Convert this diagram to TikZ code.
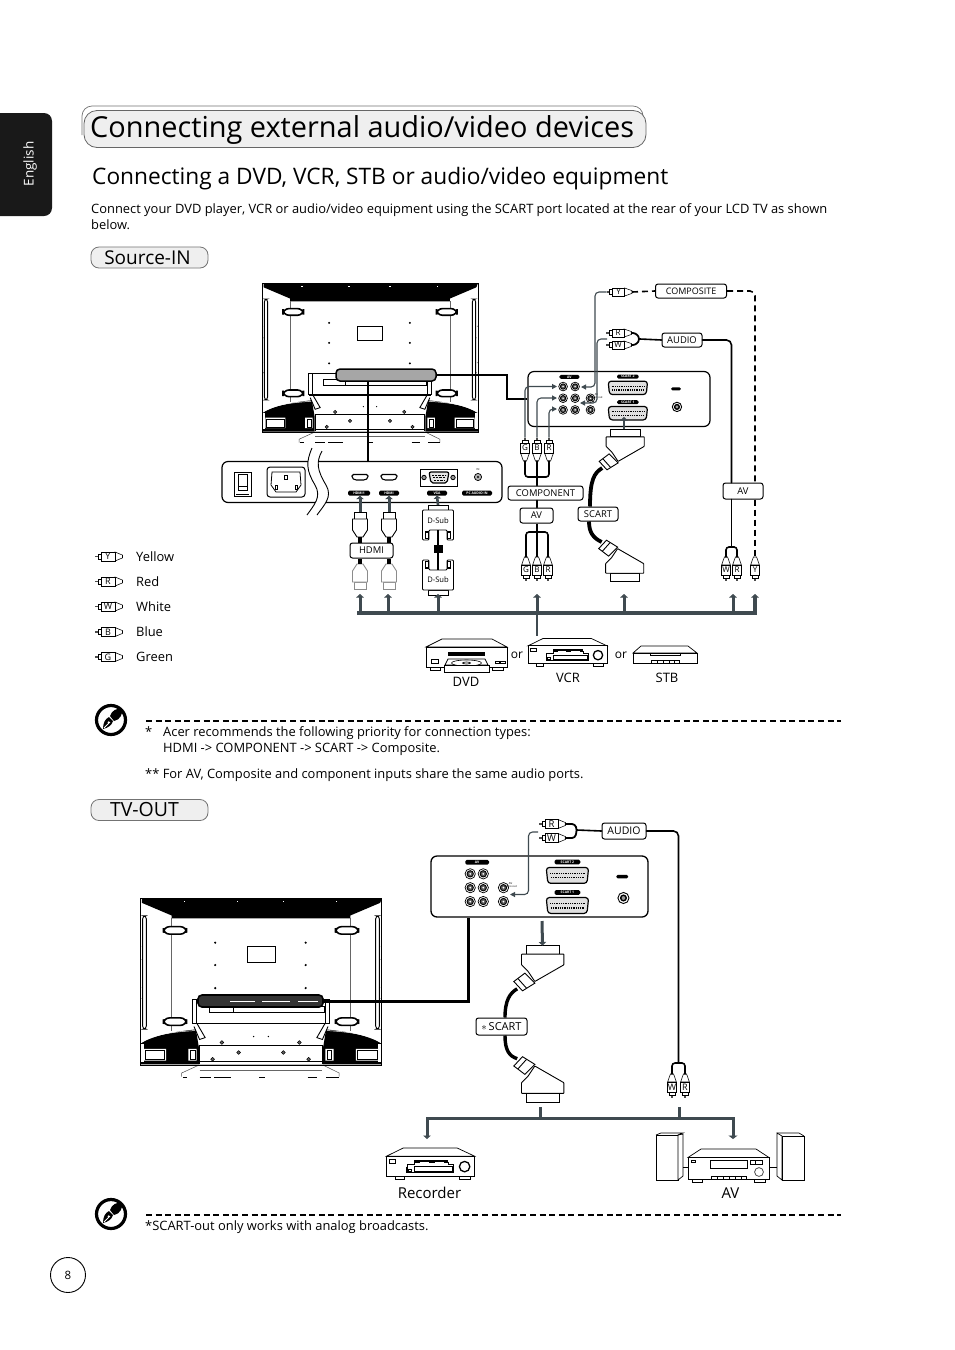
\documentclass[tikz,border=0pt]{standalone}
\usepackage{fontspec}
\setmainfont{Open Sans}
\usetikzlibrary{arrows.meta,calc}
\definecolor{slate}{HTML}{3F4A50}
\definecolor{pillgray}{HTML}{EFEFEF}
\newcommand\fs[1]{\fontsize{#1}{#1}\selectfont}
\tikzset{
 lbl/.style={draw,line width=1pt,rounded corners=2.5pt,fill=white,inner sep=0pt,font=\fs{9.4}},
 txt/.style={inner sep=0pt,anchor=base west,font=\fs{12.9}},
 plugbox/.style={draw,line width=.6pt,fill=white,inner sep=0pt,font=\fs{8}},
 plugline/.style={draw,line width=.55pt},
 cable/.style={line width=1.6pt,line cap=round},
 fatcable/.style={line width=2.6pt},
 thinarr/.style={draw=slate,line width=1.1pt,-{Triangle[width=5pt,length=5pt]}},
 bigarr/.style={draw=slate,line width=3pt,-{Triangle[width=7.5pt,length=3.5pt]}},
 tinypill/.style={fill=black,text=white,rounded corners=1.5pt,inner sep=0pt,font=\fs{3.4}\bfseries},
 tiny/.style={inner sep=0pt,font=\fs{2.8}},
 pill/.style={draw=black!55,line width=.8pt,fill=pillgray,rounded corners=8pt,inner sep=0pt},
}
% ---- RCA plugs
\newcommand\rcav[5]{% name x y letter dir
 \begin{scope}[shift={(#2,#3)},yscale=#5]
  \fill[black!70] (-.7,-10.5) rectangle (.7,-7.5);
  \draw[plugline,fill=white] (-2.8,-5) rectangle (2.8,-8);
  \draw[plugline,fill=white] (-4.4,5) -- (-1.6,13) -- (1.6,13) -- (4.4,5) -- cycle;
  \coordinate (#1c) at (0,13); \coordinate (#1p) at (0,-10.5);
 \end{scope}
 \node[plugbox,minimum width=9pt,minimum height=10pt] (#1) at (#2,#3) {#4};}
\newcommand\rcah[6]{% name x y letter boxw boxh
 \begin{scope}[shift={(#2,#3)}]
  \fill[black!70] ({-#5/2-6},-.7) rectangle ({-#5/2-2},.7);
  \draw[plugline,fill=white] ({-#5/2-3},-2.6) rectangle ({-#5/2},2.6);
  \draw[plugline,fill=white] ({#5/2},{-#6/2}) -- ({#5/2+7.5},-1.4) -- ({#5/2+7.5},1.4) -- ({#5/2},{#6/2}) -- cycle;
  \coordinate (#1c) at ({#5/2+7.5},0); \coordinate (#1p) at ({-#5/2-6},0);
 \end{scope}
 \node[plugbox,minimum width=#5 pt,minimum height=#6 pt] (#1) at (#2,#3) {#4};}
% ---- HDMI
\newcommand\hdmiplug[5]{% name x y dir colour
 \begin{scope}[shift={(#2,#3)},yscale=#4,line width=.9pt,draw=#5]
  \draw[fill=white] (-6,0) rectangle (6,7);
  \draw[fill=white] (-7.5,7) -- (7.5,7) -- (7.5,18) -- (3,25) -- (-3,25) -- (-7.5,18) -- cycle;
  \coordinate (#1c) at (0,25); \coordinate (#1t) at (0,0);
 \end{scope}}
% ---- D-Sub
\newcommand\dsub[4]{% name x y dir
 \begin{scope}[shift={(#2,#3)},yscale=#4,line width=.9pt]
  \draw[fill=white] (-10,0) rectangle (10,5);
  \draw[fill=white,rounded corners=1pt] (-15.5,5) -- (15.5,5) -- (15.5,35) -- (9,35) -- (9,25) -- (-9,25) -- (-9,35) -- (-15.5,35) -- cycle;
  \draw[line width=1.1pt] (-12.5,27) rectangle (-9.5,33.5) (12.5,27) rectangle (9.5,33.5);
  \coordinate (#1c) at (0,25); \coordinate (#1t) at (0,0);
 \end{scope}}
% ---- SCART plug
\newcommand\scartplug[5]{% name x y sx sy
 \begin{scope}[shift={(#2,#3)},xscale=#4,yscale=#5,line width=.9pt]
  \draw[fill=white] (-48,0) rectangle (50,26);
  \draw[fill=white,rounded corners=.5pt] (-63,26) -- (64,26) -- (64,58) -- (-23,108) -- (-43,78) -- (-63,58) -- cycle;
  \draw[fill=white] (-86,108) -- (-53,83) -- (-23,113) -- (-60,136) -- cycle;
  \draw (-74,99) -- (-48,128);
  \coordinate (#1c) at (-76,130); \coordinate (#1t) at (0,0);
 \end{scope}}
% ---- rear panel of AV jacks
\newcommand\jack[1]{\draw[fill=white,line width=.7pt] (#1) circle (13); \draw[fill=black!65,line width=.9pt] (#1) circle (8); \fill[white] (#1) circle (2.5);}
\newcommand\scartsock[3]{% left top width
 \draw[line width=1.2pt,fill=black!12,rounded corners=3pt] (#1,#2) -- ++(#3,0) -- ++(-4,40) -- ++({-#3+8},0) -- cycle;
 \draw[line width=1.4pt,dash pattern=on .9 off .9,line cap=butt] ({#1+10},{#2+15}) -- ++({#3-20},0) ({#1+12},{#2+26}) -- ++({#3-24},0);}
\newcommand\avpanel[9]{% name x y s j1 j2 j3 sx sw
 \begin{scope}[shift={(#2,#3)},scale=#4]
  \jack{#5,45}\jack{#6,45}
  \jack{#5,80}\jack{#6,80}\jack{#7,80}
  \jack{#5,115}\jack{#6,115}\jack{#7,115}
  \node[tinypill,minimum width=#4*60pt,minimum height=#4*12pt] at ({(#5+#6)/2+1},16) {AV};
  \node[tiny] at ({#7+18},70) {AV};
  \node[tiny] at ({#7+18},78) {audio out};
  \node[tinypill,minimum width=#4*65pt,minimum height=#4*12pt] at ({#8+#9/2},15) {SCART 2};
  \node[tinypill,minimum width=#4*65pt,minimum height=#4*12pt] at ({#8+#9/2},92) {SCART 1};
  \scartsock{#8}{29}{#9}
  \scartsock{#8}{105}{#9}
  \node[tinypill,minimum width=#4*30pt,minimum height=#4*9pt] at ({#8+#9+85},52) {};
  \draw[line width=.9pt,fill=white] ({#8+#9+88},106) circle (14);
  \draw[line width=1.4pt,fill=black!40] ({#8+#9+88},106) circle (7);
 \end{scope}}
% ---- TV rear; local units 650 x 450
\newcommand\tvcorner{%
  \fill (0,392) .. controls (30,372) and (80,360) .. (150,353) -- (158,400) -- (158,447) -- (0,447) -- cycle;
  \draw[white,line width=.5pt] (3,388) .. controls (32,368) and (82,360) .. (148,356);
  \fill[white] (10,405) rectangle (70,437) (130,405) rectangle (152,437);
  \fill[white] (0,392) rectangle (10,440);
  \draw[line width=.5pt] (14,409) rectangle (66,433) (136,409) rectangle (148,433);
  \draw[line width=.9pt,rounded corners=3pt] (7,48) rectangle (17,352);
  \draw[line width=.4pt,black!60] (85,55) -- (85,358);
  \foreach \y in {77,322} {\draw[line width=1.6pt,fill=white,rounded corners=6pt] (63,\y) rectangle (125,{\y+20});}
  \foreach \y in {165,270} {\fill (6,\y) circle (1.6);}
  \foreach \y in {130,240} {\fill (2,\y) circle (1.2);}
  \draw[line width=.9pt,fill=white] (153,337) -- (175,375) -- (160,380) -- (145,345);
  \draw[line width=.8pt] (140,272) -- (140,337) (152,272) -- (152,337);
}
\newcommand\tvrear{%
  \fill[white] (0,0) rectangle (650,450);
  \draw[line width=.5pt,black!70,fill=white] (112,480) -- (112,470) -- (160,448) -- (490,448) -- (535,470) -- (535,480);
  \draw[line width=.4pt,black!60] (160,462) -- (490,462);
  \foreach \a/\b in {115/125,160/190,200/245,320/335,450/475,500/535} {\draw[line width=1pt] (\a,481) -- (\b,481);}
  \fill (5,0) -- (650,0) -- (645,13) -- (565,47) -- (565,55) -- (85,55) -- (85,47) -- (5,13) -- cycle;
  \foreach \x in {120,262,385,528} {\fill[white] (\x-2,8) rectangle (\x+2,10);}
  \tvcorner
  \begin{scope}[shift={(650,0)},xscale=-1]\tvcorner\end{scope}
  \draw[line width=1pt] (0,0) rectangle (650,450);
  \foreach \x in {202,445}\foreach \y in {120,180,242} {\fill (\x,\y) circle (3.2);}
  \draw[line width=.5pt] (287,130) rectangle (363,172);
  \draw[line width=1pt] (363,130) -- (363,172);
  \draw[line width=1.6pt] (140,337) -- (510,337);
  \draw[line width=.7pt] (140,272) -- (510,272);
  \draw[line width=.5pt,fill=white] (185,290) rectangle (495,307);
  \draw[line width=.6pt] (250,290) -- (250,307);
  \draw[line width=.8pt] (160,440) -- (490,440) (160,395) -- (160,445) (490,395) -- (490,445);
  \draw[line width=1.4pt] (160,396) -- (490,396);
  \foreach \p in {(220,388),(428,388),(265,415),(385,415),(195,433),(453,433)} {\draw[line width=.5pt,fill=black!60] \p circle (5);}
  \fill (305,372) circle (2) (345,372) circle (2);
}
% ---- devices
\newcommand\vcrdevice[3]{% x y s
 \begin{scope}[shift={(#1,#2)},scale=#3,line width=.7pt]
  \draw[fill=white] (25,22) rectangle (45,30) (195,75) rectangle (225,83);
  \draw[fill=white] (25,75) rectangle (47,83);
  \draw[fill=white] (0,22) -- (45,0) -- (190,0) -- (237,22) -- cycle;
  \draw[fill=white] (0,22) rectangle (237,75);
  \draw[fill=white] (8,30) rectangle (25,40);
  \draw[line width=1.3pt] (210,50) circle (14);
  \fill (75,32) rectangle (165,44);
  \draw[fill=white] (55,44) -- (75,44) -- (75,38) -- (165,38) -- (165,44) -- (180,44) -- (180,65) -- (55,65) -- cycle;
  \draw[line width=1pt] (55,50) -- (55,65) -- (180,65) -- (180,50) (75,50) rectangle (178,62);
  \draw (58,58) rectangle (66,64);
  \draw[line width=.6pt,white] (90,38) -- (115,38) (130,38) -- (155,38);
 \end{scope}}
\newcommand\noteicon[2]{%
 \begin{scope}[shift={(#1,#2)}]
  \draw[line width=3.2pt] (0,0) circle (14.5);
  \fill (-8,9) .. controls (-8,3) and (-6,-1) .. (-2,-3) -- (2,1) .. controls (1,5) and (-3,8) .. (-8,9) -- cycle;
  \fill (-1,-4) .. controls (1,-10) and (6,-12) .. (11,-11) .. controls (12,-6) and (9,0) .. (3,1) -- cycle;
  \draw[white,line width=.8pt] (-7,8) -- (-1,2);
  \fill[white] (-2.4,2.4) circle (1.1);
 \end{scope}}

\begin{document}
\begin{tikzpicture}[x=1pt,y=-1pt]
\useasboundingbox (0,0) rectangle (954,1350);
\fill[white] (0,0) rectangle (954,1350);

% --- page furniture
\fill[black!90,rounded corners=8pt] (-12,113) rectangle (52,216);
\node[rotate=90,text=white,inner sep=0pt,font=\fs{13.5}] (tab) at (30,164) {English};
\draw[black!55,line width=.7pt,rounded corners=10pt] (82,135) -- (82,106) -- (643,106) -- (643,140);
\node[draw=black!60,line width=.8pt,fill=pillgray,rounded corners=13pt,minimum width=562pt,minimum height=37pt,inner sep=0pt] (titlebar) at (365,129) {};
\node[inner sep=0pt,anchor=base west,font=\fs{28.9}] (title) at (90,137.5) {Connecting external audio/video devices};
\node[inner sep=0pt,anchor=base west,font=\fs{22.7}] (subtitle) at (92,184) {Connecting a DVD, VCR, STB or audio/video equipment};
\node[txt] (p1) at (91,213) {Connect your DVD player, VCR or audio/video equipment using the SCART port located at the rear of your LCD TV as shown};
\node[txt] (p2) at (91,229) {below.};
\node[pill,minimum width=117pt,minimum height=21pt] (srcin) at (149.5,257.5) {};
\node[inner sep=0pt,font=\fs{19}] (srcintxt) at (147.5,257.5) {Source-IN};
\node[pill,minimum width=117pt,minimum height=21pt] (tvout) at (149.5,810) {};
\node[inner sep=0pt,font=\fs{19.5}] (tvouttxt) at (144.5,810) {TV-OUT};

% --- TV 1
\begin{scope}[shift={(262,283)},scale=.3323]\tvrear\end{scope}
\node[draw,line width=1.5pt,fill=black!35,rounded corners=4pt,minimum width=100pt,minimum height=12pt,inner sep=0pt] (capA) at (386,375) {};

% --- input panel
\node[draw,line width=1.2pt,rounded corners=6pt,fill=white,minimum width=280pt,minimum height=41pt,inner sep=0pt] (inpanel) at (362,482) {};
\draw[fatcable,line width=2pt] (368,381) -- (inpanel.north -| 368,0);
\path[fill=white] (312,448) .. controls (306,462) and (306,470) .. (315,485) .. controls (322,497) and (314,505) .. (307,515)
 -- (317,515) .. controls (324,505) and (333,497) .. (326,485) .. controls (317,470) and (316,462) .. (322,451) -- cycle;
\draw[line width=.9pt] (312,448) .. controls (306,462) and (306,470) .. (315,485) .. controls (322,497) and (314,505) .. (307,515);
\draw[line width=.9pt] (322,451) .. controls (316,462) and (317,470) .. (326,485) .. controls (333,497) and (324,505) .. (317,515);
% switch and inlet
\draw[line width=1pt,fill=white] (234,472) rectangle (251,496);
\draw[line width=.8pt] (238,474) rectangle (247,490);
\draw[line width=1pt] (238,486) -- (247,486);
\draw[line width=.5pt] (236,494) -- (249,494);
\draw[line width=1pt,rounded corners=3pt] (267,467) rectangle (305,497);
\draw[line width=.8pt] (272,472) -- (300,472) -- (301,485) -- (296,492) -- (276,492) -- (271,485) -- cycle;
\draw[line width=.8pt] (284.5,475) rectangle (287,479) (275,485) rectangle (277.5,489) (295,485) rectangle (297.5,489);
% ports
\foreach \x in {360,389} {\draw[line width=1.1pt,rounded corners=1.5pt,fill=white] (\x-8,474.5) -- (\x+8,474.5) -- (\x+8,478) -- (\x+5,480) -- (\x-5,480) -- (\x-8,478) -- cycle;}
\draw[line width=.7pt] (420,469) rectangle (457,486);
\draw[line width=1.2pt,fill=black!10,rounded corners=2pt] (429,472) -- (449,472) -- (447,483) -- (431,483) -- cycle;
\draw[line width=.9pt,dash pattern=on .7 off .7] (432,475) -- (446,475) (433,477.5) -- (445,477.5) (434,480) -- (444,480);
\foreach \x in {424,453} {\draw[line width=.8pt,fill=black!40] (\x,477.5) circle (2.2);}
\draw[line width=.7pt,fill=black!30] (478,477) circle (3.6);
\fill (478,477) circle (1.2);
\node[tiny] (inlbl) at (478,469) {IN};
\node[tinypill,minimum width=22pt,minimum height=5pt] (pH1) at (359,493) {HDMI1};
\node[tinypill,minimum width=20pt,minimum height=5pt] (pH2) at (389,493) {HDMI};
\node[tinypill,minimum width=20pt,minimum height=5pt] (pV) at (437,493) {VGA};
\node[tinypill,minimum width=30pt,minimum height=5pt] (pA) at (477,493) {PC AUDIO IN};

% --- AV panel 1
\node[draw,line width=1.2pt,rounded corners=6pt,fill=white,minimum width=182pt,minimum height=55pt,inner sep=0pt] (panelA) at (619,399) {};
\avpanel{A}{527}{371.5}{.334}{108}{144}{190}{243}{118}
\draw[line width=2.8pt] (capA.east) -- (507,375) |- (panelA.west);

% --- HDMI cables
\hdmiplug{hA}{360}{512}{1}{black}
\hdmiplug{hB}{389}{512}{1}{black}
\hdmiplug{hC}{360}{589}{-1}{black!45}
\hdmiplug{hD}{389}{589}{-1}{black!45}
\node[lbl,minimum width=43pt,minimum height=15pt] (hdmi) at (371.5,550.5) {HDMI};
\foreach \a in {hAc,hBc} {\draw[line width=4pt] (\a) -- (\a |- hdmi.north);}
\foreach \a in {hCc,hDc} {\draw[line width=4pt] (\a) -- (\a |- hdmi.south);}
\draw[bigarr] (hAt) -- (pH1.south -| hAt);
\draw[bigarr] (hBt) -- (pH2.south);

% --- D-Sub cable
\dsub{dA}{438}{505}{1}
\dsub{dB}{438}{595}{-1}
\node[inner sep=0pt,font=\fs{7.6}] (dAt) at (438,520.5) {D-Sub};
\node[inner sep=0pt,font=\fs{7.6}] (dBt) at (438,579.5) {D-Sub};
\draw[line width=2.5pt] (dAc) -- (dBc);
\fill (434,545) rectangle (443,553);
\draw[draw=slate,line width=2.6pt,-{Triangle[width=7.5pt,length=3pt]}] (dAt) ++(0,-15.5) -- (pV.south);

% --- component
\rcav{gA}{525}{448}{G}{1}
\rcav{bA}{537}{448}{B}{1}
\rcav{rA}{549}{448}{R}{1}
\rcav{gB}{526}{570}{G}{-1}
\rcav{bB}{537}{570}{B}{-1}
\rcav{rB}{548}{570}{R}{-1}
\node[lbl,minimum width=75pt,minimum height=14pt] (comp) at (545.5,493) {COMPONENT};
\node[lbl,minimum width=33pt,minimum height=15pt] (avA) at (536.5,515.5) {AV};
\coordinate (jcA) at (537,477);
\coordinate (jcB) at (537,532);
\draw[cable,rounded corners=3pt] (gAc) |- (jcA) -| (rAc);
\draw[cable] (bAc) -- (bAc |- comp.north);
\draw[cable] (bBc |- comp.south) -- (bBc |- avA.north);
\draw[cable,rounded corners=3pt] (gBc) |- (jcB) -| (rBc);
\draw[line width=1.8pt] (bBc |- avA.south) -- (bBc);
\coordinate (tG) at (557,386.5);
\coordinate (tB) at (557,398);
\coordinate (tR) at (557,409);
\draw[thinarr,rounded corners=4pt] (gAp) |- (tG);
\draw[thinarr,rounded corners=4pt] (bAp) |- (tB);
\draw[thinarr,rounded corners=4pt] (rAp) |- (tR);

% --- SCART source in
\scartplug{sA}{625}{429}{.3}{.3}
\scartplug{sB}{624.5}{581}{.3}{-.3}
\node[lbl,minimum width=40pt,minimum height=14pt] (scartA) at (598,514) {SCART};
\draw[line width=3.8pt] (sAc) .. controls (594,473) and (590,480) .. (scartA.north -| 590,0);
\draw[line width=3.8pt] (scartA.south -| 589,0) .. controls (589,532) and (593,538) .. (sBc);
\draw[bigarr,line width=2.6pt] (sAt) ++(-1,0) -- (624,417);

% --- top right
\rcah{yT}{618.5}{292}{Y}{12}{8}
\rcah{rT}{618}{333}{R}{12}{8}
\rcah{wT}{618}{345}{W}{12}{8}
\node[lbl,minimum width=71pt,minimum height=14pt,font=\fs{9}] (compo) at (691,291) {COMPOSITE};
\node[lbl,minimum width=40pt,minimum height=14pt] (audioA) at (682,340) {AUDIO};
\node[lbl,minimum width=40pt,minimum height=16pt] (avB) at (743,491) {AV};
\rcav{wB}{726}{570}{W}{-1}
\rcav{rB2}{737}{570}{R}{-1}
\rcav{yB}{755}{570}{Y}{-1}
\coordinate (jcC) at (731.5,547);
\coordinate (jcD) at (640,339);
\draw[cable,rounded corners=3pt] (wBc) |- (jcC) -| (rB2c);
\draw[cable] (jcC) -- (jcC |- avB.south);
\draw[cable,rounded corners=5pt] (audioA.east) -| (jcC |- avB.north);
\draw[cable,rounded corners=3pt,line width=1.8pt] (rTc) -- (636,333) -- (jcD) -- (636,345) -- (wTc);
\draw[cable] (jcD) -- (audioA.west);
\draw[line width=1.6pt,dash pattern=on 6pt off 4pt] (yTc) -- (compo.west);
\draw[line width=1.6pt,dash pattern=on 6pt off 4pt,rounded corners=5pt] (compo.east) -| (yBc |- avB.north);
\draw[line width=1.6pt,dash pattern=on 6pt off 4pt] (yBc |- avB.south) -- (yBc);
\coordinate (tY) at (581,387);
\coordinate (tW) at (580,403);
\coordinate (wSrc) at (607,339);
\draw[thinarr,rounded corners=4pt] (yTp) -- (595,292) |- (tY);
\draw[thinarr,rounded corners=4pt] (wSrc) -- (597,339) |- (tW);

% --- source bus
\coordinate (busL) at (357,613);
\coordinate (busR) at (757,613);
\draw[slate,line width=4pt] (busL) -- (busR);
\foreach \x in {360,388,438,537,624,733} {\coordinate (up) at (\x,613); \draw[bigarr] (up) -- ++(0,-19);}
\draw[bigarr,line width=4pt] (755,613) -- (755,594);
\coordinate (dvcrtop) at (537,636);
\draw[slate,line width=2.2pt] (537,613) -- (dvcrtop);

% --- devices row 1
\begin{scope}[shift={(426,639)},scale=1,line width=.7pt]
  \draw[fill=white] (4,28) rectangle (14,31) (66,28) rectangle (77,31);
  \draw[fill=white] (0,8) -- (16,0) -- (66,0) -- (81,8) -- cycle;
  \draw[fill=white] (0,8) rectangle (81,28);
  \fill (22,13) rectangle (59,17);
  \draw[fill=white] (22,20) -- (59,20) -- (62,26) -- (19,26) -- cycle;
  \draw[fill=white,line width=.6pt] (40.5,24) ellipse (15 and 3);
  \draw (40.5,24) ellipse (4 and 1);
  \draw[fill=white] (18,26) rectangle (63,33);
  \draw[fill=white] (5,20) rectangle (12,24);
  \draw (69,22) rectangle (73,24) (74,22) rectangle (79,24);
\end{scope}
\vcrdevice{528}{638.5}{.3333}
\begin{scope}[shift={(633,646)},line width=.7pt]
  \draw[fill=white] (6,10) rectangle (15,12) (52,10) rectangle (61,12);
  \draw[fill=white] (0,7) -- (8,0) -- (55,0) -- (64,7) -- cycle;
  \draw[fill=white] (0,7) rectangle (64,17);
  \draw[fill=white] (17,7) rectangle (47,9.5);
  \draw[fill=white] (18,14) rectangle (46.5,17);
  \foreach \x in {24,30,36,41} {\draw (\x,14) -- (\x,17);}
\end{scope}
\node[inner sep=0pt,font=\fs{12}] (or1) at (517,655.5) {or};
\node[inner sep=0pt,font=\fs{12}] (or2) at (621,655.5) {or};
\node[inner sep=0pt,font=\fs{13}] (ldvd) at (466,682) {DVD};
\node[inner sep=0pt,font=\fs{13}] (lvcr) at (568,677.5) {VCR};
\node[inner sep=0pt,font=\fs{13}] (lstb) at (667,678) {STB};

% --- legend
\rcah{l1}{108}{556.5}{\fs{9}Y}{14}{9}
\rcah{l2}{108}{581.5}{\fs{9}R}{14}{9}
\rcah{l3}{108}{606.5}{\fs{9}W}{14}{9}
\rcah{l4}{108}{632}{\fs{9}B}{14}{9}
\rcah{l5}{108}{657}{\fs{9}G}{14}{9}
\node[txt] (t1) at (136,561) {Yellow};
\node[txt] (t2) at (136,586) {Red};
\node[txt] (t3) at (136,611) {White};
\node[txt] (t4) at (136,636) {Blue};
\node[txt] (t5) at (136,661) {Green};

% --- note 1
\noteicon{111}{720}
\coordinate (d1a) at (146,721); \coordinate (d1b) at (841,721);
\draw[line width=1.5pt,dash pattern=on 6pt off 3.6pt] (d1a) -- (d1b);
\node[txt] (n0) at (145,736) {*};
\node[txt] (n1) at (163,736) {Acer recommends the following priority for connection types:};
\node[txt] (n2) at (163,752) {HDMI -> COMPONENT -> SCART ->  Composite.};
\node[txt] (n3) at (145,778) {** For AV, Composite and component inputs share the same audio ports.};

% --- TV 2
\begin{scope}[shift={(140,898)},scale=.3723]\tvrear\end{scope}
\node[draw,line width=1.6pt,fill=black!80,rounded corners=4pt,minimum width=125pt,minimum height=12pt,inner sep=0pt] (capB) at (260.5,1001) {};
\draw[white,line width=.5pt] (230,1001) -- (255,1001) (262,1001) -- (290,1001) (298,1001) -- (318,1001);
\node[draw,line width=1.3pt,rounded corners=6pt,fill=white,minimum width=217pt,minimum height=61pt,inner sep=0pt] (panelB) at (539.5,886.5) {};
\avpanel{B}{431}{856}{.396}{99}{132}{183}{291}{107}
\draw[line width=3pt] (capB.east) -- (468,1001) -- (panelB.south -| 468,0);

% --- TV-out connections
\rcah{rO}{551.5}{824}{\fs{9.5}R}{13}{9}
\rcah{wO}{551.5}{838}{\fs{9.5}W}{13}{9}
\node[lbl,minimum width=44pt,minimum height=16pt,font=\fs{10.5}] (audioB) at (624,831) {AUDIO};
\coordinate (jcE) at (577,830);
\draw[cable,line width=1.8pt,rounded corners=3pt] (rOc) -- (575,824) -- (jcE) -- (575,838) -- (wOc);
\draw[cable] (jcE) -- (audioB.west);
\coordinate (tWo) at (510,894.5);
\coordinate (wOsrc) at (538,832);
\draw[thinarr,rounded corners=4pt] (wOsrc) -- (528.5,832) |- (tWo);
\rcav{wP}{672}{1087}{\fs{9}W}{-1}
\rcav{rP}{685}{1087}{\fs{9}R}{-1}
\coordinate (jcF) at (678.5,1063);
\draw[cable,rounded corners=3pt] (wPc) |- (jcF) -| (rPc);
\draw[cable,rounded corners=5pt] (audioB.east) -| (jcF);

\scartplug{sC}{542.5}{945.5}{.3333}{.3333}
\scartplug{sD}{542.5}{1102}{.3333}{-.3333}
\node[lbl,minimum width=51pt,minimum height=17pt,font=\fs{11}] (scartB) at (501.5,1026.5) {$\ast$\,SCART};
\draw[line width=3.4pt] (sCc) .. controls (510,993) and (505,1000) .. (scartB.north -| 505,0);
\draw[line width=3.4pt] (scartB.south -| 505,0) .. controls (505,1050) and (509,1056) .. (sDc);
\coordinate (pdrop) at (542,921);
\draw[bigarr,line width=3pt] (pdrop) -- (sCt);

% --- TV-out bus
\coordinate (recTop) at (427,1139);
\coordinate (avTop) at (733,1139);
\coordinate (busO) at (580,1118);
\draw[slate,line width=3pt,{Triangle[width=7.5pt,length=3.5pt]}-{Triangle[width=9pt,length=3.5pt]}] (recTop) |- (busO) -| (avTop);
\draw[slate,line width=3pt] (540,1107) -- (540,1118);
\draw[slate,line width=3pt] (679,1107) -- (679,1118);

% --- devices row 2
\vcrdevice{386.5}{1148}{.372}
\begin{scope}[shift={(656,1135)},line width=.7pt]
  \draw[fill=white] (0,0) rectangle (22,45);
  \draw[fill=white] (22,0) -- (27,-1) -- (27,41) -- (22,45) -- cycle;
  \draw (0,0) -- (5,-2) -- (27,-2) -- (22,0);
  \draw (27,32) -- (32,32);
  \draw (121,32) -- (113,32);
  \draw[fill=white] (121,-2) -- (126,1) -- (126,45) -- (121,41) -- cycle;
  \draw[fill=white] (126,1) rectangle (148,45);
  \draw (121,-2) -- (143,-2) -- (148,1);
\end{scope}
\begin{scope}[shift={(688,1149)},line width=.7pt]
  \draw[fill=white] (4,30) rectangle (14,33) (66,30) rectangle (77,33);
  \draw[fill=white] (0,8.5) -- (13,0) -- (68,0) -- (81,8.5) -- cycle;
  \draw[fill=white] (0,8.5) rectangle (81,30);
  \draw (3,11) rectangle (7,13.5);
  \draw (22,11) rectangle (59,19);
  \draw (62,11) rectangle (67.5,15) (67.5,11) rectangle (74.5,15);
  \draw[line width=.8pt,black!70] (71,23) circle (4.4);
  \draw (23.5,27) rectangle (58.5,30);
  \foreach \x in {29,35,41,47,53} {\draw (\x,27) -- (\x,30);}
\end{scope}
\node[inner sep=0pt,font=\fs{15}] (lrec) at (429.5,1192.5) {Recorder};
\node[inner sep=0pt,font=\fs{15}] (lav) at (730.5,1193.5) {AV};

% --- note 2
\noteicon{111}{1214}
\coordinate (d2a) at (146,1215); \coordinate (d2b) at (841,1215);
\draw[line width=1.5pt,dash pattern=on 6pt off 3.6pt] (d2a) -- (d2b);
\node[txt] (n4) at (145,1230) {*SCART-out only works with analog broadcasts.};

% --- page number
\node[draw,circle,line width=.9pt,minimum size=35pt,inner sep=0pt,font=\fs{11.5}] (pageno) at (68,1275) {8};
\end{tikzpicture}
\end{document}
